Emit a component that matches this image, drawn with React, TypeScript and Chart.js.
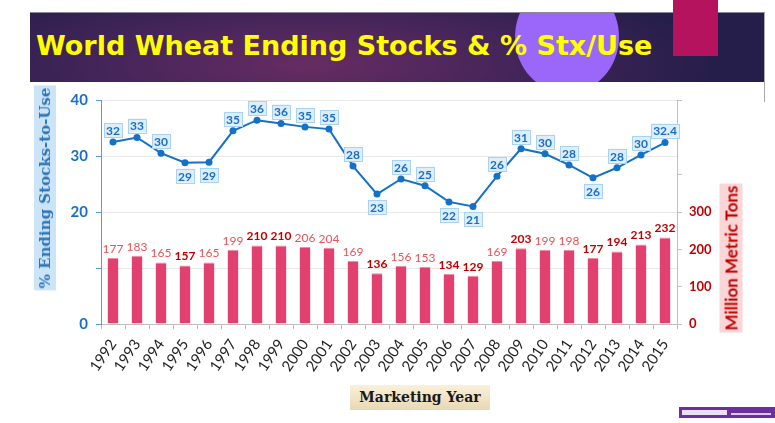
import React, { useEffect, useRef } from "react";
import { Chart, registerables } from "chart.js";

Chart.register(...registerables);

const years = ["1992","1993","1994","1995","1996","1997","1998","1999","2000","2001","2002","2003","2004","2005","2006","2007","2008","2009","2010","2011","2012","2013","2014","2015"];
const stxUse = [32.5, 33.3, 30.5, 28.8, 28.9, 34.5, 36.4, 35.8, 35.2, 34.8, 28.2, 23.2, 25.9, 24.7, 21.8, 21.0, 26.4, 31.3, 30.4, 28.4, 26.1, 27.9, 30.2, 32.4];
const stxUseLabels = ["32","33","30","29","29","35","36","36","35","35","28","23","26","25","22","21","26","31","30","28","26","28","30","32.4"];
const stxLabelBelow = [false,false,false,true,true,false,false,false,false,false,false,true,false,false,true,true,false,false,false,false,true,false,false,false];
const endingStocks = [177,183,165,157,165,199,210,210,206,204,169,136,156,153,134,129,169,203,199,198,177,194,213,232];
const stocksBold = [false,false,false,true,false,false,true,true,false,false,false,true,false,false,true,true,false,true,false,false,true,true,true,true];
const leftTickLabels = [0, 20, 30, 40];
const rightTickLabels = [0, 100, 200, 300];

const valueLabels = {
  id: "valueLabels",
  afterDatasetsDraw(chart: any) {
    const ctx = chart.ctx;
    ctx.save();
    const barMeta = chart.getDatasetMeta(1);
    barMeta.data.forEach((el: any, i: number) => {
      const bold = stocksBold[i];
      ctx.font = `${bold ? "bold " : ""}12px Lato`;
      ctx.fillStyle = bold ? "#C00000" : "#E5555A";
      ctx.textAlign = "center";
      ctx.textBaseline = "bottom";
      ctx.fillText(String(endingStocks[i]), el.x, el.y - 3);
    });
    const lineMeta = chart.getDatasetMeta(0);
    lineMeta.data.forEach((pt: any, i: number) => {
      const txt = stxUseLabels[i];
      ctx.font = "bold 12px Lato";
      const w = ctx.measureText(txt).width + 4;
      const h = 14;
      const x = pt.x - w / 2;
      const y = stxLabelBelow[i] ? pt.y + 6 : pt.y - 5 - h;
      ctx.fillStyle = "#DDEEFB";
      ctx.strokeStyle = "#A9D3F5";
      ctx.lineWidth = 1;
      ctx.fillRect(x, y, w, h);
      ctx.strokeRect(Math.round(x) + 0.5, Math.round(y) + 0.5, Math.round(w), h);
      ctx.fillStyle = "#1A6FC4";
      ctx.textAlign = "center";
      ctx.textBaseline = "middle";
      ctx.fillText(txt, pt.x, y + h / 2 + 1);
    });
    ctx.restore();
  },
};

export default function App() {
  const ref = useRef<HTMLCanvasElement | null>(null);
  useEffect(() => {
    if (!ref.current) return;
    const chart = new Chart(ref.current, {
      type: "bar",
      data: {
        labels: years,
        datasets: [
          {
            type: "line",
            label: "% Ending Stocks-to-Use",
            data: stxUse,
            yAxisID: "y",
            borderColor: "#1570C8",
            backgroundColor: "#1570C8",
            borderWidth: 2,
            pointRadius: 3.5,
            pointBorderWidth: 0,
            pointBackgroundColor: "#1570C8",
            order: 0,
          } as any,
          {
            type: "bar",
            label: "Million Metric Tons",
            data: endingStocks,
            yAxisID: "y1",
            backgroundColor: "#E2406F",
            borderColor: "#F08AA8",
            borderWidth: { top: 1, left: 0, right: 0, bottom: 0 },
            barPercentage: 0.45,
            categoryPercentage: 1,
            order: 1,
          } as any,
        ],
      },
      options: {
        responsive: false,
        animation: false,
        devicePixelRatio: 1,
        layout: { padding: { top: 100, left: 0, right: 0, bottom: 0 } },
        plugins: { legend: { display: false }, tooltip: { enabled: false } },
        scales: {
          x: {
            offset: true,
            grid: { display: true, drawOnChartArea: false, drawTicks: true, tickLength: 5, color: "#BFBFBF", offset: true },
            border: { color: "#BFBFBF" },
            ticks: {
              autoSkip: false,
              minRotation: 56,
              maxRotation: 56,
              padding: 7,
              color: "#1E1E1E",
              font: { family: "Lato", size: 15 },
            },
            afterFit: (s: any) => { s.height = 99; },
          },
          y: {
            position: "left",
            min: 0,
            max: 40,
            ticks: {
              stepSize: 10,
              padding: 8,
              color: "#1A6FC4",
              font: { family: "Lato", size: 15, weight: "bold" },
              callback: (v: any) => (leftTickLabels.includes(Number(v)) ? String(v) : ""),
            },
            grid: { color: "#E8E8E8", tickColor: "#5B9BD5", tickLength: 5 },
            border: { color: "#5B9BD5" },
            afterFit: (s: any) => { s.width = 101; },
          },
          y1: {
            position: "right",
            min: 0,
            max: 600,
            ticks: {
              stepSize: 100,
              padding: 7,
              color: "#C00000",
              font: { family: "Lato", size: 13, weight: "bold" },
              callback: (v: any) => (rightTickLabels.includes(Number(v)) ? String(v) : ""),
            },
            grid: {
              drawOnChartArea: false,
              tickLength: 5,
              tickColor: (c: any) => (c.tick && c.tick.value === 500 ? "rgba(0,0,0,0)" : "#BFBFBF"),
            },
            border: { color: "#BFBFBF" },
            afterFit: (s: any) => { s.width = 98; },
          },
        },
      } as any,
      plugins: [valueLabels],
    });
    return () => chart.destroy();
  }, []);

  return (
    <div style={{ position: "absolute", left: 0, top: 0, width: 775, height: 423, background: "#fff", overflow: "hidden" }}>
      <div
        style={{
          position: "absolute",
          left: 30,
          top: 12,
          width: 734,
          height: 70,
          overflow: "hidden",
          background: "radial-gradient(ellipse 55% 140% at 38% 75%, #672C62 0%, #45255A 50%, #261E4A 100%)",
          borderTop: "1px solid #8a8a9a",
          boxSizing: "border-box",
        }}
      >
        <div style={{ position: "absolute", left: 485, top: -32, width: 104, height: 112, borderRadius: "50%", background: "#9B67FB" }} />
        <div
          style={{
            position: "absolute",
            left: 6,
            top: 16,
            whiteSpace: "nowrap",
            color: "#FFFF00",
            fontFamily: "'DejaVu Sans', sans-serif",
            fontWeight: "bold",
            fontSize: 27,
            lineHeight: "34px",
          }}
        >
          World Wheat Ending Stocks &amp; % Stx/Use
        </div>
      </div>
      <div style={{ position: "absolute", left: 673, top: 0, width: 45, height: 56, background: "#B5135E" }} />
      <div style={{ position: "absolute", left: 764, top: 12, width: 1, height: 90, background: "#A8A8A8" }} />
      <canvas ref={ref} width={775} height={423} style={{ position: "absolute", left: 0, top: 0, width: 775, height: 423 }} />
      <div
        style={{
          position: "absolute",
          left: 45,
          top: 188,
          transform: "translate(-50%, -50%) rotate(-90deg)",
          whiteSpace: "nowrap",
          background: "#CCE4F8",
          color: "#2E75B6",
          fontFamily: "'DejaVu Serif', serif",
          fontWeight: "bold",
          fontSize: 15,
          lineHeight: "22px",
          padding: "0 2px",
        }}
      >
        % Ending Stocks-to-Use
      </div>
      <div
        style={{
          position: "absolute",
          left: 731,
          top: 258,
          transform: "translate(-50%, -50%) rotate(-90deg)",
          whiteSpace: "nowrap",
          background: "#FCD6D6",
          color: "#C00000",
          fontFamily: "Lato, sans-serif",
          fontWeight: "bold",
          fontSize: 17,
          lineHeight: "23px",
          padding: "0 2px",
        }}
      >
        Million Metric Tons
      </div>
      <div
        style={{
          position: "absolute",
          left: 350,
          top: 385,
          width: 140,
          height: 25,
          background: "linear-gradient(#FBF0D8, #E8D8B4)",
          color: "#1A1A1A",
          fontFamily: "'DejaVu Serif', serif",
          fontWeight: "bold",
          fontSize: 14,
          lineHeight: "25px",
          textAlign: "center",
          whiteSpace: "nowrap",
        }}
      >
        Marketing Year
      </div>
      <div style={{ position: "absolute", left: 679, top: 407, width: 96, height: 11, background: "#6B2FA0" }}>
        <div style={{ position: "absolute", left: 3, top: 3, width: 45, height: 5, background: "#E9E0F2" }} />
        <div style={{ position: "absolute", left: 52, top: 6, width: 40, height: 2, background: "#D8CCE8" }} />
      </div>
    </div>
  );
}
